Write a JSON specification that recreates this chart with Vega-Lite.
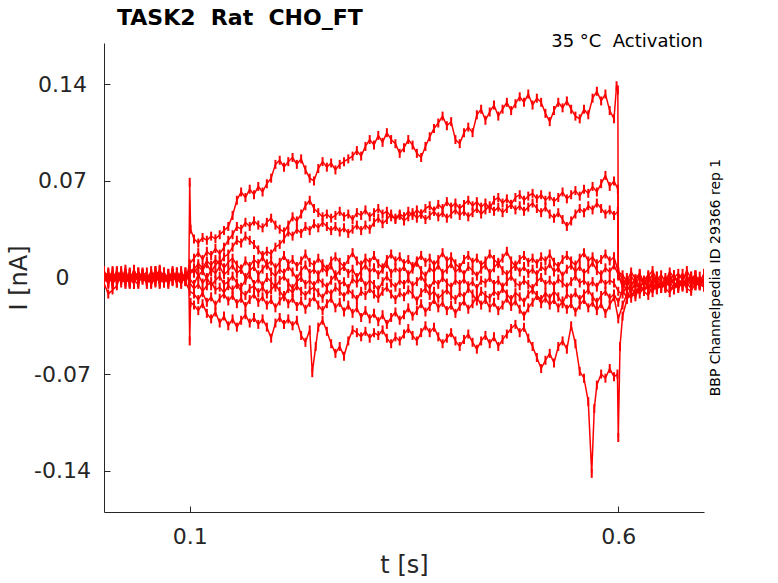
{
"$schema":"https://vega.github.io/schema/vega-lite/v6.json",
"width":600,"height":469,
"autosize":{"type":"none"},
"padding":{"left":104,"top":43,"right":74,"bottom":71},
"background":"white",
"config":{"view":{"stroke":null},"font":"DejaVu Sans"},
"title":{"text":"TASK2 \u00a0Rat \u00a0CHO_FT","anchor":"start","frame":"group","fontSize":22,"fontWeight":"bold","font":"DejaVu Sans","color":"black","dx":13,"dy":31,"offset":17,"baseline":"alphabetic"},
"datasets":{"tr":[
{"s":"A","t":0,"i":0.003},{"s":"A","t":0.005,"i":-0.004},{"s":"A","t":0.01,"i":0.002},{"s":"A","t":0.015,"i":-0.001},{"s":"A","t":0.02,"i":0.005},{"s":"A","t":0.025,"i":-0.003},{"s":"A","t":0.03,"i":0.001},{"s":"A","t":0.035,"i":-0.005},{"s":"A","t":0.04,"i":0.004},{"s":"A","t":0.045,"i":-0.002},{"s":"A","t":0.05,"i":0},{"s":"A","t":0.055,"i":0.003},{"s":"A","t":0.06,"i":-0.004},{"s":"A","t":0.065,"i":0.006},{"s":"A","t":0.07,"i":-0.002},{"s":"A","t":0.075,"i":0.001},{"s":"A","t":0.08,"i":-0.003},{"s":"A","t":0.085,"i":0.004},{"s":"A","t":0.09,"i":-0.001},{"s":"A","t":0.095,"i":0.002},
{"s":"A","t":0.099,"i":0.002},{"s":"A","t":0.1,"i":0.069},{"s":"A","t":0.101,"i":0.035},
{"s":"A","t":0.105,"i":0.028},{"s":"A","t":0.11,"i":0.025},{"s":"A","t":0.115,"i":0.029},{"s":"A","t":0.12,"i":0.027},{"s":"A","t":0.125,"i":0.03},{"s":"A","t":0.13,"i":0.028},{"s":"A","t":0.135,"i":0.031},{"s":"A","t":0.14,"i":0.034},{"s":"A","t":0.145,"i":0.037},{"s":"A","t":0.15,"i":0.045},{"s":"A","t":0.155,"i":0.056},{"s":"A","t":0.16,"i":0.062},{"s":"A","t":0.165,"i":0.058},{"s":"A","t":0.17,"i":0.064},{"s":"A","t":0.175,"i":0.06},{"s":"A","t":0.18,"i":0.066},{"s":"A","t":0.185,"i":0.062},{"s":"A","t":0.19,"i":0.068},{"s":"A","t":0.195,"i":0.072},{"s":"A","t":0.2,"i":0.082},{"s":"A","t":0.205,"i":0.085},{"s":"A","t":0.21,"i":0.08},{"s":"A","t":0.215,"i":0.084},{"s":"A","t":0.22,"i":0.087},{"s":"A","t":0.225,"i":0.082},{"s":"A","t":0.23,"i":0.086},{"s":"A","t":0.235,"i":0.078},{"s":"A","t":0.24,"i":0.072},{"s":"A","t":0.245,"i":0.07},{"s":"A","t":0.25,"i":0.079},{"s":"A","t":0.255,"i":0.084},{"s":"A","t":0.26,"i":0.08},{"s":"A","t":0.265,"i":0.083},{"s":"A","t":0.27,"i":0.078},{"s":"A","t":0.275,"i":0.082},{"s":"A","t":0.28,"i":0.084},{"s":"A","t":0.285,"i":0.086},{"s":"A","t":0.29,"i":0.088},{"s":"A","t":0.295,"i":0.092},{"s":"A","t":0.3,"i":0.088},{"s":"A","t":0.305,"i":0.095},{"s":"A","t":0.31,"i":0.1},{"s":"A","t":0.315,"i":0.096},{"s":"A","t":0.32,"i":0.103},{"s":"A","t":0.325,"i":0.098},{"s":"A","t":0.33,"i":0.105},{"s":"A","t":0.335,"i":0.1},{"s":"A","t":0.34,"i":0.097},{"s":"A","t":0.345,"i":0.09},{"s":"A","t":0.35,"i":0.094},{"s":"A","t":0.355,"i":0.1},{"s":"A","t":0.36,"i":0.096},{"s":"A","t":0.365,"i":0.09},{"s":"A","t":0.37,"i":0.087},{"s":"A","t":0.375,"i":0.095},{"s":"A","t":0.38,"i":0.102},{"s":"A","t":0.385,"i":0.108},{"s":"A","t":0.39,"i":0.112},{"s":"A","t":0.395,"i":0.117},{"s":"A","t":0.4,"i":0.11},{"s":"A","t":0.405,"i":0.113},{"s":"A","t":0.41,"i":0.1},{"s":"A","t":0.415,"i":0.097},{"s":"A","t":0.42,"i":0.105},{"s":"A","t":0.425,"i":0.109},{"s":"A","t":0.43,"i":0.105},{"s":"A","t":0.435,"i":0.118},{"s":"A","t":0.44,"i":0.122},{"s":"A","t":0.445,"i":0.114},{"s":"A","t":0.45,"i":0.12},{"s":"A","t":0.455,"i":0.125},{"s":"A","t":0.46,"i":0.117},{"s":"A","t":0.465,"i":0.122},{"s":"A","t":0.47,"i":0.127},{"s":"A","t":0.475,"i":0.121},{"s":"A","t":0.48,"i":0.126},{"s":"A","t":0.485,"i":0.131},{"s":"A","t":0.49,"i":0.127},{"s":"A","t":0.495,"i":0.133},{"s":"A","t":0.5,"i":0.125},{"s":"A","t":0.505,"i":0.13},{"s":"A","t":0.51,"i":0.127},{"s":"A","t":0.515,"i":0.119},{"s":"A","t":0.52,"i":0.113},{"s":"A","t":0.525,"i":0.121},{"s":"A","t":0.53,"i":0.127},{"s":"A","t":0.535,"i":0.123},{"s":"A","t":0.54,"i":0.128},{"s":"A","t":0.545,"i":0.122},{"s":"A","t":0.55,"i":0.117},{"s":"A","t":0.555,"i":0.115},{"s":"A","t":0.56,"i":0.122},{"s":"A","t":0.565,"i":0.118},{"s":"A","t":0.57,"i":0.13},{"s":"A","t":0.575,"i":0.135},{"s":"A","t":0.58,"i":0.128},{"s":"A","t":0.585,"i":0.133},{"s":"A","t":0.59,"i":0.121},{"s":"A","t":0.595,"i":0.115},{"s":"A","t":0.598,"i":0.139},{"s":"A","t":0.5995,"i":0.136},{"s":"A","t":0.6,"i":0.004},
{"s":"A","t":0.605,"i":-0.001},{"s":"A","t":0.61,"i":-0.006},{"s":"A","t":0.615,"i":0.001},{"s":"A","t":0.62,"i":-0.004},{"s":"A","t":0.625,"i":-0.008},{"s":"A","t":0.63,"i":-0.002},{"s":"A","t":0.635,"i":0.002},{"s":"A","t":0.64,"i":-0.005},{"s":"A","t":0.645,"i":-0.001},{"s":"A","t":0.65,"i":-0.006},{"s":"A","t":0.655,"i":0},{"s":"A","t":0.66,"i":-0.004},{"s":"A","t":0.665,"i":-0.007},{"s":"A","t":0.67,"i":-0.001},{"s":"A","t":0.675,"i":0.003},{"s":"A","t":0.68,"i":-0.004},{"s":"A","t":0.685,"i":-0.002},{"s":"A","t":0.69,"i":-0.006},{"s":"A","t":0.695,"i":0.001},{"s":"A","t":0.7,"i":-0.003},

{"s":"B","t":0,"i":-0.002},{"s":"B","t":0.005,"i":0.004},{"s":"B","t":0.01,"i":-0.005},{"s":"B","t":0.015,"i":0.001},{"s":"B","t":0.02,"i":0.003},{"s":"B","t":0.025,"i":-0.001},{"s":"B","t":0.03,"i":-0.004},{"s":"B","t":0.035,"i":0.005},{"s":"B","t":0.04,"i":-0.002},{"s":"B","t":0.045,"i":0.002},{"s":"B","t":0.05,"i":-0.003},{"s":"B","t":0.055,"i":0},{"s":"B","t":0.06,"i":0.004},{"s":"B","t":0.065,"i":-0.005},{"s":"B","t":0.07,"i":0.003},{"s":"B","t":0.075,"i":-0.001},{"s":"B","t":0.08,"i":0.002},{"s":"B","t":0.085,"i":-0.004},{"s":"B","t":0.09,"i":0.005},{"s":"B","t":0.095,"i":-0.003},
{"s":"B","t":0.1,"i":0.01},
{"s":"B","t":0.105,"i":0.014},{"s":"B","t":0.11,"i":0.018},{"s":"B","t":0.115,"i":0.013},{"s":"B","t":0.12,"i":0.019},{"s":"B","t":0.125,"i":0.016},{"s":"B","t":0.13,"i":0.021},{"s":"B","t":0.135,"i":0.017},{"s":"B","t":0.14,"i":0.022},{"s":"B","t":0.145,"i":0.027},{"s":"B","t":0.15,"i":0.031},{"s":"B","t":0.155,"i":0.037},{"s":"B","t":0.16,"i":0.035},{"s":"B","t":0.165,"i":0.04},{"s":"B","t":0.17,"i":0.037},{"s":"B","t":0.175,"i":0.041},{"s":"B","t":0.18,"i":0.038},{"s":"B","t":0.185,"i":0.036},{"s":"B","t":0.19,"i":0.04},{"s":"B","t":0.195,"i":0.043},{"s":"B","t":0.2,"i":0.038},{"s":"B","t":0.205,"i":0.035},{"s":"B","t":0.21,"i":0.033},{"s":"B","t":0.215,"i":0.038},{"s":"B","t":0.22,"i":0.044},{"s":"B","t":0.225,"i":0.041},{"s":"B","t":0.23,"i":0.046},{"s":"B","t":0.235,"i":0.052},{"s":"B","t":0.24,"i":0.056},{"s":"B","t":0.245,"i":0.05},{"s":"B","t":0.25,"i":0.047},{"s":"B","t":0.255,"i":0.044},{"s":"B","t":0.26,"i":0.046},{"s":"B","t":0.265,"i":0.043},{"s":"B","t":0.27,"i":0.045},{"s":"B","t":0.275,"i":0.048},{"s":"B","t":0.28,"i":0.044},{"s":"B","t":0.285,"i":0.046},{"s":"B","t":0.29,"i":0.042},{"s":"B","t":0.295,"i":0.047},{"s":"B","t":0.3,"i":0.045},{"s":"B","t":0.305,"i":0.049},{"s":"B","t":0.31,"i":0.044},{"s":"B","t":0.315,"i":0.047},{"s":"B","t":0.32,"i":0.05},{"s":"B","t":0.325,"i":0.046},{"s":"B","t":0.33,"i":0.048},{"s":"B","t":0.335,"i":0.044},{"s":"B","t":0.34,"i":0.043},{"s":"B","t":0.345,"i":0.046},{"s":"B","t":0.35,"i":0.044},{"s":"B","t":0.355,"i":0.048},{"s":"B","t":0.36,"i":0.045},{"s":"B","t":0.365,"i":0.049},{"s":"B","t":0.37,"i":0.046},{"s":"B","t":0.375,"i":0.05},{"s":"B","t":0.38,"i":0.052},{"s":"B","t":0.385,"i":0.048},{"s":"B","t":0.39,"i":0.053},{"s":"B","t":0.395,"i":0.05},{"s":"B","t":0.4,"i":0.055},{"s":"B","t":0.405,"i":0.051},{"s":"B","t":0.41,"i":0.054},{"s":"B","t":0.415,"i":0.05},{"s":"B","t":0.42,"i":0.053},{"s":"B","t":0.425,"i":0.056},{"s":"B","t":0.43,"i":0.052},{"s":"B","t":0.435,"i":0.055},{"s":"B","t":0.44,"i":0.051},{"s":"B","t":0.445,"i":0.054},{"s":"B","t":0.45,"i":0.05},{"s":"B","t":0.455,"i":0.056},{"s":"B","t":0.46,"i":0.058},{"s":"B","t":0.465,"i":0.054},{"s":"B","t":0.47,"i":0.057},{"s":"B","t":0.475,"i":0.053},{"s":"B","t":0.48,"i":0.058},{"s":"B","t":0.485,"i":0.06},{"s":"B","t":0.49,"i":0.056},{"s":"B","t":0.495,"i":0.059},{"s":"B","t":0.5,"i":0.061},{"s":"B","t":0.505,"i":0.057},{"s":"B","t":0.51,"i":0.06},{"s":"B","t":0.515,"i":0.056},{"s":"B","t":0.52,"i":0.059},{"s":"B","t":0.525,"i":0.055},{"s":"B","t":0.53,"i":0.058},{"s":"B","t":0.535,"i":0.062},{"s":"B","t":0.54,"i":0.057},{"s":"B","t":0.545,"i":0.06},{"s":"B","t":0.55,"i":0.063},{"s":"B","t":0.555,"i":0.059},{"s":"B","t":0.56,"i":0.064},{"s":"B","t":0.565,"i":0.061},{"s":"B","t":0.57,"i":0.066},{"s":"B","t":0.575,"i":0.062},{"s":"B","t":0.58,"i":0.068},{"s":"B","t":0.585,"i":0.074},{"s":"B","t":0.59,"i":0.066},{"s":"B","t":0.595,"i":0.07},{"s":"B","t":0.5995,"i":0.064},{"s":"B","t":0.6,"i":0.002},
{"s":"B","t":0.605,"i":-0.007},{"s":"B","t":0.61,"i":-0.002},{"s":"B","t":0.615,"i":-0.009},{"s":"B","t":0.62,"i":-0.004},{"s":"B","t":0.625,"i":0},{"s":"B","t":0.63,"i":-0.006},{"s":"B","t":0.635,"i":-0.002},{"s":"B","t":0.64,"i":0.002},{"s":"B","t":0.645,"i":-0.005},{"s":"B","t":0.65,"i":-0.008},{"s":"B","t":0.655,"i":-0.003},{"s":"B","t":0.66,"i":0.001},{"s":"B","t":0.665,"i":-0.004},{"s":"B","t":0.67,"i":-0.006},{"s":"B","t":0.675,"i":-0.001},{"s":"B","t":0.68,"i":0.002},{"s":"B","t":0.685,"i":-0.005},{"s":"B","t":0.69,"i":-0.002},{"s":"B","t":0.695,"i":-0.006},{"s":"B","t":0.7,"i":0},

{"s":"C","t":0,"i":0.005},{"s":"C","t":0.005,"i":-0.001},{"s":"C","t":0.01,"i":-0.003},{"s":"C","t":0.015,"i":0.004},{"s":"C","t":0.02,"i":-0.002},{"s":"C","t":0.025,"i":0.006},{"s":"C","t":0.03,"i":-0.004},{"s":"C","t":0.035,"i":0.001},{"s":"C","t":0.04,"i":-0.001},{"s":"C","t":0.045,"i":0.003},{"s":"C","t":0.05,"i":-0.005},{"s":"C","t":0.055,"i":0.002},{"s":"C","t":0.06,"i":0},{"s":"C","t":0.065,"i":-0.003},{"s":"C","t":0.07,"i":0.004},{"s":"C","t":0.075,"i":-0.002},{"s":"C","t":0.08,"i":0.005},{"s":"C","t":0.085,"i":-0.001},{"s":"C","t":0.09,"i":-0.004},{"s":"C","t":0.095,"i":0.001},
{"s":"C","t":0.1,"i":0.005},
{"s":"C","t":0.105,"i":0.006},{"s":"C","t":0.11,"i":0.01},{"s":"C","t":0.115,"i":0.007},{"s":"C","t":0.12,"i":0.012},{"s":"C","t":0.125,"i":0.009},{"s":"C","t":0.13,"i":0.013},{"s":"C","t":0.135,"i":0.01},{"s":"C","t":0.14,"i":0.015},{"s":"C","t":0.145,"i":0.017},{"s":"C","t":0.15,"i":0.022},{"s":"C","t":0.155,"i":0.027},{"s":"C","t":0.16,"i":0.025},{"s":"C","t":0.165,"i":0.03},{"s":"C","t":0.17,"i":0.027},{"s":"C","t":0.175,"i":0.024},{"s":"C","t":0.18,"i":0.02},{"s":"C","t":0.185,"i":0.016},{"s":"C","t":0.19,"i":0.019},{"s":"C","t":0.195,"i":0.017},{"s":"C","t":0.2,"i":0.022},{"s":"C","t":0.205,"i":0.024},{"s":"C","t":0.21,"i":0.028},{"s":"C","t":0.215,"i":0.033},{"s":"C","t":0.22,"i":0.03},{"s":"C","t":0.225,"i":0.035},{"s":"C","t":0.23,"i":0.032},{"s":"C","t":0.235,"i":0.037},{"s":"C","t":0.24,"i":0.034},{"s":"C","t":0.245,"i":0.039},{"s":"C","t":0.25,"i":0.036},{"s":"C","t":0.255,"i":0.04},{"s":"C","t":0.26,"i":0.037},{"s":"C","t":0.265,"i":0.034},{"s":"C","t":0.27,"i":0.037},{"s":"C","t":0.275,"i":0.033},{"s":"C","t":0.28,"i":0.036},{"s":"C","t":0.285,"i":0.032},{"s":"C","t":0.29,"i":0.035},{"s":"C","t":0.295,"i":0.038},{"s":"C","t":0.3,"i":0.034},{"s":"C","t":0.305,"i":0.038},{"s":"C","t":0.31,"i":0.035},{"s":"C","t":0.315,"i":0.04},{"s":"C","t":0.32,"i":0.043},{"s":"C","t":0.325,"i":0.039},{"s":"C","t":0.33,"i":0.042},{"s":"C","t":0.335,"i":0.046},{"s":"C","t":0.34,"i":0.042},{"s":"C","t":0.345,"i":0.045},{"s":"C","t":0.35,"i":0.041},{"s":"C","t":0.355,"i":0.044},{"s":"C","t":0.36,"i":0.047},{"s":"C","t":0.365,"i":0.043},{"s":"C","t":0.37,"i":0.046},{"s":"C","t":0.375,"i":0.042},{"s":"C","t":0.38,"i":0.045},{"s":"C","t":0.385,"i":0.048},{"s":"C","t":0.39,"i":0.044},{"s":"C","t":0.395,"i":0.047},{"s":"C","t":0.4,"i":0.043},{"s":"C","t":0.405,"i":0.046},{"s":"C","t":0.41,"i":0.049},{"s":"C","t":0.415,"i":0.045},{"s":"C","t":0.42,"i":0.048},{"s":"C","t":0.425,"i":0.044},{"s":"C","t":0.43,"i":0.047},{"s":"C","t":0.435,"i":0.05},{"s":"C","t":0.44,"i":0.046},{"s":"C","t":0.445,"i":0.049},{"s":"C","t":0.45,"i":0.052},{"s":"C","t":0.455,"i":0.048},{"s":"C","t":0.46,"i":0.051},{"s":"C","t":0.465,"i":0.047},{"s":"C","t":0.47,"i":0.05},{"s":"C","t":0.475,"i":0.053},{"s":"C","t":0.48,"i":0.049},{"s":"C","t":0.485,"i":0.052},{"s":"C","t":0.49,"i":0.048},{"s":"C","t":0.495,"i":0.051},{"s":"C","t":0.5,"i":0.054},{"s":"C","t":0.505,"i":0.05},{"s":"C","t":0.51,"i":0.047},{"s":"C","t":0.515,"i":0.051},{"s":"C","t":0.52,"i":0.046},{"s":"C","t":0.525,"i":0.043},{"s":"C","t":0.53,"i":0.047},{"s":"C","t":0.535,"i":0.042},{"s":"C","t":0.54,"i":0.037},{"s":"C","t":0.545,"i":0.041},{"s":"C","t":0.55,"i":0.046},{"s":"C","t":0.555,"i":0.05},{"s":"C","t":0.56,"i":0.047},{"s":"C","t":0.565,"i":0.052},{"s":"C","t":0.57,"i":0.049},{"s":"C","t":0.575,"i":0.054},{"s":"C","t":0.58,"i":0.05},{"s":"C","t":0.585,"i":0.046},{"s":"C","t":0.59,"i":0.049},{"s":"C","t":0.595,"i":0.045},{"s":"C","t":0.5995,"i":0.048},{"s":"C","t":0.6,"i":0.001},
{"s":"C","t":0.605,"i":-0.004},{"s":"C","t":0.61,"i":-0.01},{"s":"C","t":0.615,"i":-0.005},{"s":"C","t":0.62,"i":-0.001},{"s":"C","t":0.625,"i":-0.007},{"s":"C","t":0.63,"i":-0.003},{"s":"C","t":0.635,"i":-0.008},{"s":"C","t":0.64,"i":-0.002},{"s":"C","t":0.645,"i":0.001},{"s":"C","t":0.65,"i":-0.004},{"s":"C","t":0.655,"i":-0.007},{"s":"C","t":0.66,"i":-0.002},{"s":"C","t":0.665,"i":0.002},{"s":"C","t":0.67,"i":-0.005},{"s":"C","t":0.675,"i":-0.001},{"s":"C","t":0.68,"i":-0.006},{"s":"C","t":0.685,"i":-0.003},{"s":"C","t":0.69,"i":0.001},{"s":"C","t":0.695,"i":-0.004},{"s":"C","t":0.7,"i":-0.002},

{"s":"D","t":0,"i":-0.004},{"s":"D","t":0.005,"i":-0.012},{"s":"D","t":0.01,"i":-0.009},{"s":"D","t":0.015,"i":-0.006},{"s":"D","t":0.02,"i":0.003},{"s":"D","t":0.025,"i":-0.005},{"s":"D","t":0.03,"i":0.003},{"s":"D","t":0.035,"i":-0.002},{"s":"D","t":0.04,"i":0.004},{"s":"D","t":0.045,"i":0},{"s":"D","t":0.05,"i":-0.001},{"s":"D","t":0.055,"i":-0.004},{"s":"D","t":0.06,"i":0.002},{"s":"D","t":0.065,"i":0.005},{"s":"D","t":0.07,"i":-0.003},{"s":"D","t":0.075,"i":0.003},{"s":"D","t":0.08,"i":-0.002},{"s":"D","t":0.085,"i":0.001},{"s":"D","t":0.09,"i":-0.005},{"s":"D","t":0.095,"i":0.004},
{"s":"D","t":0.099,"i":-0.002},{"s":"D","t":0.1,"i":-0.046},{"s":"D","t":0.101,"i":-0.018},
{"s":"D","t":0.105,"i":-0.02},{"s":"D","t":0.11,"i":-0.024},{"s":"D","t":0.115,"i":-0.019},{"s":"D","t":0.12,"i":-0.026},{"s":"D","t":0.125,"i":-0.03},{"s":"D","t":0.13,"i":-0.025},{"s":"D","t":0.135,"i":-0.033},{"s":"D","t":0.14,"i":-0.028},{"s":"D","t":0.145,"i":-0.035},{"s":"D","t":0.15,"i":-0.03},{"s":"D","t":0.155,"i":-0.036},{"s":"D","t":0.16,"i":-0.031},{"s":"D","t":0.165,"i":-0.027},{"s":"D","t":0.17,"i":-0.033},{"s":"D","t":0.175,"i":-0.029},{"s":"D","t":0.18,"i":-0.034},{"s":"D","t":0.185,"i":-0.03},{"s":"D","t":0.19,"i":-0.036},{"s":"D","t":0.195,"i":-0.044},{"s":"D","t":0.2,"i":-0.033},{"s":"D","t":0.205,"i":-0.029},{"s":"D","t":0.21,"i":-0.034},{"s":"D","t":0.215,"i":-0.03},{"s":"D","t":0.22,"i":-0.035},{"s":"D","t":0.225,"i":-0.031},{"s":"D","t":0.23,"i":-0.042},{"s":"D","t":0.235,"i":-0.047},{"s":"D","t":0.24,"i":-0.038},{"s":"D","t":0.243,"i":-0.069},{"s":"D","t":0.247,"i":-0.05},{"s":"D","t":0.25,"i":-0.036},{"s":"D","t":0.255,"i":-0.031},{"s":"D","t":0.26,"i":-0.039},{"s":"D","t":0.265,"i":-0.048},{"s":"D","t":0.27,"i":-0.055},{"s":"D","t":0.275,"i":-0.05},{"s":"D","t":0.28,"i":-0.057},{"s":"D","t":0.285,"i":-0.046},{"s":"D","t":0.29,"i":-0.038},{"s":"D","t":0.295,"i":-0.04},{"s":"D","t":0.3,"i":-0.043},{"s":"D","t":0.305,"i":-0.039},{"s":"D","t":0.31,"i":-0.044},{"s":"D","t":0.315,"i":-0.04},{"s":"D","t":0.32,"i":-0.042},{"s":"D","t":0.325,"i":-0.038},{"s":"D","t":0.33,"i":-0.044},{"s":"D","t":0.335,"i":-0.048},{"s":"D","t":0.34,"i":-0.043},{"s":"D","t":0.345,"i":-0.046},{"s":"D","t":0.35,"i":-0.041},{"s":"D","t":0.355,"i":-0.037},{"s":"D","t":0.36,"i":-0.042},{"s":"D","t":0.365,"i":-0.046},{"s":"D","t":0.37,"i":-0.04},{"s":"D","t":0.375,"i":-0.035},{"s":"D","t":0.38,"i":-0.04},{"s":"D","t":0.385,"i":-0.036},{"s":"D","t":0.39,"i":-0.043},{"s":"D","t":0.395,"i":-0.048},{"s":"D","t":0.4,"i":-0.044},{"s":"D","t":0.405,"i":-0.04},{"s":"D","t":0.41,"i":-0.046},{"s":"D","t":0.415,"i":-0.05},{"s":"D","t":0.42,"i":-0.045},{"s":"D","t":0.425,"i":-0.041},{"s":"D","t":0.43,"i":-0.047},{"s":"D","t":0.435,"i":-0.052},{"s":"D","t":0.44,"i":-0.046},{"s":"D","t":0.445,"i":-0.042},{"s":"D","t":0.45,"i":-0.048},{"s":"D","t":0.455,"i":-0.043},{"s":"D","t":0.46,"i":-0.05},{"s":"D","t":0.465,"i":-0.045},{"s":"D","t":0.47,"i":-0.041},{"s":"D","t":0.475,"i":-0.037},{"s":"D","t":0.48,"i":-0.034},{"s":"D","t":0.485,"i":-0.04},{"s":"D","t":0.49,"i":-0.036},{"s":"D","t":0.495,"i":-0.044},{"s":"D","t":0.5,"i":-0.05},{"s":"D","t":0.505,"i":-0.058},{"s":"D","t":0.51,"i":-0.066},{"s":"D","t":0.515,"i":-0.06},{"s":"D","t":0.52,"i":-0.055},{"s":"D","t":0.525,"i":-0.062},{"s":"D","t":0.53,"i":-0.05},{"s":"D","t":0.535,"i":-0.046},{"s":"D","t":0.54,"i":-0.052},{"s":"D","t":0.545,"i":-0.035},{"s":"D","t":0.55,"i":-0.048},{"s":"D","t":0.555,"i":-0.068},{"s":"D","t":0.56,"i":-0.073},{"s":"D","t":0.565,"i":-0.09},{"s":"D","t":0.569,"i":-0.142},{"s":"D","t":0.572,"i":-0.095},{"s":"D","t":0.575,"i":-0.078},{"s":"D","t":0.58,"i":-0.07},{"s":"D","t":0.585,"i":-0.073},{"s":"D","t":0.59,"i":-0.066},{"s":"D","t":0.595,"i":-0.072},{"s":"D","t":0.599,"i":-0.07},{"s":"D","t":0.6,"i":-0.116},{"s":"D","t":0.602,"i":-0.05},
{"s":"D","t":0.605,"i":-0.028},{"s":"D","t":0.61,"i":-0.016},{"s":"D","t":0.615,"i":-0.011},{"s":"D","t":0.62,"i":-0.014},{"s":"D","t":0.625,"i":-0.007},{"s":"D","t":0.63,"i":-0.01},{"s":"D","t":0.635,"i":-0.005},{"s":"D","t":0.64,"i":-0.008},{"s":"D","t":0.645,"i":-0.003},{"s":"D","t":0.65,"i":-0.007},{"s":"D","t":0.655,"i":-0.002},{"s":"D","t":0.66,"i":-0.006},{"s":"D","t":0.665,"i":0},{"s":"D","t":0.67,"i":-0.004},{"s":"D","t":0.675,"i":-0.007},{"s":"D","t":0.68,"i":-0.002},{"s":"D","t":0.685,"i":0.001},{"s":"D","t":0.69,"i":-0.005},{"s":"D","t":0.695,"i":-0.003},{"s":"D","t":0.7,"i":-0.006},

{"s":"E","t":0,"i":0.001},{"s":"E","t":0.005,"i":-0.005},{"s":"E","t":0.01,"i":0.004},{"s":"E","t":0.015,"i":-0.002},{"s":"E","t":0.02,"i":-0.001},{"s":"E","t":0.025,"i":0.003},{"s":"E","t":0.03,"i":-0.003},{"s":"E","t":0.035,"i":0.006},{"s":"E","t":0.04,"i":-0.004},{"s":"E","t":0.045,"i":0.002},{"s":"E","t":0.05,"i":0.001},{"s":"E","t":0.055,"i":-0.002},{"s":"E","t":0.06,"i":0.005},{"s":"E","t":0.065,"i":-0.001},{"s":"E","t":0.07,"i":-0.004},{"s":"E","t":0.075,"i":0.003},{"s":"E","t":0.08,"i":-0.002},{"s":"E","t":0.085,"i":0.004},{"s":"E","t":0.09,"i":0},{"s":"E","t":0.095,"i":-0.003},
{"s":"E","t":0.1,"i":-0.01},{"s":"E","t":0.105,"i":-0.012},{"s":"E","t":0.11,"i":-0.016},{"s":"E","t":0.115,"i":-0.011},{"s":"E","t":0.12,"i":-0.018},{"s":"E","t":0.125,"i":-0.014},{"s":"E","t":0.13,"i":-0.02},{"s":"E","t":0.135,"i":-0.015},{"s":"E","t":0.14,"i":-0.012},{"s":"E","t":0.145,"i":-0.017},{"s":"E","t":0.15,"i":-0.013},{"s":"E","t":0.155,"i":-0.019},{"s":"E","t":0.16,"i":-0.015},{"s":"E","t":0.165,"i":-0.021},{"s":"E","t":0.17,"i":-0.016},{"s":"E","t":0.175,"i":-0.012},{"s":"E","t":0.18,"i":-0.018},{"s":"E","t":0.185,"i":-0.014},{"s":"E","t":0.19,"i":-0.02},{"s":"E","t":0.195,"i":-0.016},{"s":"E","t":0.2,"i":-0.022},{"s":"E","t":0.205,"i":-0.017},{"s":"E","t":0.21,"i":-0.013},{"s":"E","t":0.215,"i":-0.019},{"s":"E","t":0.22,"i":-0.015},{"s":"E","t":0.225,"i":-0.021},{"s":"E","t":0.23,"i":-0.017},{"s":"E","t":0.235,"i":-0.023},{"s":"E","t":0.24,"i":-0.018},{"s":"E","t":0.245,"i":-0.014},{"s":"E","t":0.25,"i":-0.02},{"s":"E","t":0.255,"i":-0.024},{"s":"E","t":0.26,"i":-0.019},{"s":"E","t":0.265,"i":-0.015},{"s":"E","t":0.27,"i":-0.022},{"s":"E","t":0.275,"i":-0.018},{"s":"E","t":0.28,"i":-0.025},{"s":"E","t":0.285,"i":-0.02},{"s":"E","t":0.29,"i":-0.026},{"s":"E","t":0.295,"i":-0.022},{"s":"E","t":0.3,"i":-0.029},{"s":"E","t":0.305,"i":-0.024},{"s":"E","t":0.31,"i":-0.03},{"s":"E","t":0.315,"i":-0.026},{"s":"E","t":0.32,"i":-0.032},{"s":"E","t":0.325,"i":-0.027},{"s":"E","t":0.33,"i":-0.034},{"s":"E","t":0.335,"i":-0.029},{"s":"E","t":0.34,"i":-0.025},{"s":"E","t":0.345,"i":-0.031},{"s":"E","t":0.35,"i":-0.027},{"s":"E","t":0.355,"i":-0.022},{"s":"E","t":0.36,"i":-0.028},{"s":"E","t":0.365,"i":-0.024},{"s":"E","t":0.37,"i":-0.019},{"s":"E","t":0.375,"i":-0.025},{"s":"E","t":0.38,"i":-0.021},{"s":"E","t":0.385,"i":-0.016},{"s":"E","t":0.39,"i":-0.022},{"s":"E","t":0.395,"i":-0.018},{"s":"E","t":0.4,"i":-0.024},{"s":"E","t":0.405,"i":-0.02},{"s":"E","t":0.41,"i":-0.026},{"s":"E","t":0.415,"i":-0.021},{"s":"E","t":0.42,"i":-0.017},{"s":"E","t":0.425,"i":-0.023},{"s":"E","t":0.43,"i":-0.019},{"s":"E","t":0.435,"i":-0.014},{"s":"E","t":0.44,"i":-0.02},{"s":"E","t":0.445,"i":-0.016},{"s":"E","t":0.45,"i":-0.022},{"s":"E","t":0.455,"i":-0.018},{"s":"E","t":0.46,"i":-0.024},{"s":"E","t":0.465,"i":-0.02},{"s":"E","t":0.47,"i":-0.015},{"s":"E","t":0.475,"i":-0.021},{"s":"E","t":0.48,"i":-0.017},{"s":"E","t":0.485,"i":-0.023},{"s":"E","t":0.49,"i":-0.028},{"s":"E","t":0.495,"i":-0.022},{"s":"E","t":0.5,"i":-0.018},{"s":"E","t":0.505,"i":-0.013},{"s":"E","t":0.51,"i":-0.019},{"s":"E","t":0.515,"i":-0.015},{"s":"E","t":0.52,"i":-0.02},{"s":"E","t":0.525,"i":-0.016},{"s":"E","t":0.53,"i":-0.022},{"s":"E","t":0.535,"i":-0.017},{"s":"E","t":0.54,"i":-0.023},{"s":"E","t":0.545,"i":-0.019},{"s":"E","t":0.55,"i":-0.025},{"s":"E","t":0.555,"i":-0.02},{"s":"E","t":0.56,"i":-0.016},{"s":"E","t":0.565,"i":-0.022},{"s":"E","t":0.57,"i":-0.018},{"s":"E","t":0.575,"i":-0.024},{"s":"E","t":0.58,"i":-0.019},{"s":"E","t":0.585,"i":-0.026},{"s":"E","t":0.59,"i":-0.02},{"s":"E","t":0.595,"i":-0.014},{"s":"E","t":0.6,"i":-0.03},
{"s":"E","t":0.605,"i":-0.02},{"s":"E","t":0.61,"i":-0.012},{"s":"E","t":0.615,"i":-0.015},{"s":"E","t":0.62,"i":-0.008},{"s":"E","t":0.625,"i":-0.012},{"s":"E","t":0.63,"i":-0.006},{"s":"E","t":0.635,"i":-0.009},{"s":"E","t":0.64,"i":-0.004},{"s":"E","t":0.645,"i":-0.008},{"s":"E","t":0.65,"i":-0.003},{"s":"E","t":0.655,"i":-0.006},{"s":"E","t":0.66,"i":-0.001},{"s":"E","t":0.665,"i":-0.005},{"s":"E","t":0.67,"i":-0.008},{"s":"E","t":0.675,"i":-0.002},{"s":"E","t":0.68,"i":-0.004},{"s":"E","t":0.685,"i":0.001},{"s":"E","t":0.69,"i":-0.006},{"s":"E","t":0.695,"i":-0.003},{"s":"E","t":0.7,"i":-0.001},

{"s":"P","t":0,"i":0.002},{"s":"P","t":0.005,"i":0.003},{"s":"P","t":0.01,"i":-0.004},{"s":"P","t":0.015,"i":0.001},{"s":"P","t":0.02,"i":-0.002},{"s":"P","t":0.025,"i":0.004},{"s":"P","t":0.03,"i":-0.005},{"s":"P","t":0.035,"i":0.002},{"s":"P","t":0.04,"i":0.003},{"s":"P","t":0.045,"i":-0.001},{"s":"P","t":0.05,"i":-0.003},{"s":"P","t":0.055,"i":0.005},{"s":"P","t":0.06,"i":-0.002},{"s":"P","t":0.065,"i":0},{"s":"P","t":0.07,"i":0.004},{"s":"P","t":0.075,"i":-0.004},{"s":"P","t":0.08,"i":0.001},{"s":"P","t":0.085,"i":-0.001},{"s":"P","t":0.09,"i":0.003},{"s":"P","t":0.095,"i":-0.002},
{"s":"P","t":0.1,"i":0.006},{"s":"P","t":0.105,"i":0.003},{"s":"P","t":0.11,"i":0.008},{"s":"P","t":0.115,"i":0.005},{"s":"P","t":0.12,"i":0.01},{"s":"P","t":0.125,"i":0.004},{"s":"P","t":0.13,"i":0.009},{"s":"P","t":0.135,"i":0.012},{"s":"P","t":0.14,"i":0.007},{"s":"P","t":0.145,"i":0.011},{"s":"P","t":0.15,"i":0.014},{"s":"P","t":0.155,"i":0.009},{"s":"P","t":0.16,"i":0.006},{"s":"P","t":0.165,"i":0.012},{"s":"P","t":0.17,"i":0.008},{"s":"P","t":0.175,"i":0.013},{"s":"P","t":0.18,"i":0.01},{"s":"P","t":0.185,"i":0.015},{"s":"P","t":0.19,"i":0.009},{"s":"P","t":0.195,"i":0.012},{"s":"P","t":0.2,"i":0.007},{"s":"P","t":0.205,"i":0.011},{"s":"P","t":0.21,"i":0.016},{"s":"P","t":0.215,"i":0.01},{"s":"P","t":0.22,"i":0.013},{"s":"P","t":0.225,"i":0.008},{"s":"P","t":0.23,"i":0.012},{"s":"P","t":0.235,"i":0.017},{"s":"P","t":0.24,"i":0.011},{"s":"P","t":0.245,"i":0.009},{"s":"P","t":0.25,"i":0.014},{"s":"P","t":0.255,"i":0.01},{"s":"P","t":0.26,"i":0.006},{"s":"P","t":0.265,"i":0.012},{"s":"P","t":0.27,"i":0.015},{"s":"P","t":0.275,"i":0.011},{"s":"P","t":0.28,"i":0.008},{"s":"P","t":0.285,"i":0.013},{"s":"P","t":0.29,"i":0.018},{"s":"P","t":0.295,"i":0.012},{"s":"P","t":0.3,"i":0.009},{"s":"P","t":0.305,"i":0.014},{"s":"P","t":0.31,"i":0.011},{"s":"P","t":0.315,"i":0.016},{"s":"P","t":0.32,"i":0.01},{"s":"P","t":0.325,"i":0.007},{"s":"P","t":0.33,"i":0.013},{"s":"P","t":0.335,"i":0.017},{"s":"P","t":0.34,"i":0.012},{"s":"P","t":0.345,"i":0.015},{"s":"P","t":0.35,"i":0.01},{"s":"P","t":0.355,"i":0.013},{"s":"P","t":0.36,"i":0.008},{"s":"P","t":0.365,"i":0.012},{"s":"P","t":0.37,"i":0.016},{"s":"P","t":0.375,"i":0.011},{"s":"P","t":0.38,"i":0.014},{"s":"P","t":0.385,"i":0.009},{"s":"P","t":0.39,"i":0.013},{"s":"P","t":0.395,"i":0.018},{"s":"P","t":0.4,"i":0.012},{"s":"P","t":0.405,"i":0.015},{"s":"P","t":0.41,"i":0.01},{"s":"P","t":0.415,"i":0.007},{"s":"P","t":0.42,"i":0.013},{"s":"P","t":0.425,"i":0.016},{"s":"P","t":0.43,"i":0.011},{"s":"P","t":0.435,"i":0.014},{"s":"P","t":0.44,"i":0.009},{"s":"P","t":0.445,"i":0.012},{"s":"P","t":0.45,"i":0.017},{"s":"P","t":0.455,"i":0.013},{"s":"P","t":0.46,"i":0.01},{"s":"P","t":0.465,"i":0.014},{"s":"P","t":0.47,"i":0.019},{"s":"P","t":0.475,"i":0.012},{"s":"P","t":0.48,"i":0.008},{"s":"P","t":0.485,"i":0.013},{"s":"P","t":0.49,"i":0.016},{"s":"P","t":0.495,"i":0.011},{"s":"P","t":0.5,"i":0.014},{"s":"P","t":0.505,"i":0.01},{"s":"P","t":0.51,"i":0.015},{"s":"P","t":0.515,"i":0.012},{"s":"P","t":0.52,"i":0.017},{"s":"P","t":0.525,"i":0.011},{"s":"P","t":0.53,"i":0.008},{"s":"P","t":0.535,"i":0.013},{"s":"P","t":0.54,"i":0.016},{"s":"P","t":0.545,"i":0.012},{"s":"P","t":0.55,"i":0.009},{"s":"P","t":0.555,"i":0.014},{"s":"P","t":0.56,"i":0.018},{"s":"P","t":0.565,"i":0.012},{"s":"P","t":0.57,"i":0.015},{"s":"P","t":0.575,"i":0.01},{"s":"P","t":0.58,"i":0.013},{"s":"P","t":0.585,"i":0.017},{"s":"P","t":0.59,"i":0.012},{"s":"P","t":0.595,"i":0.015},{"s":"P","t":0.6,"i":0.004},
{"s":"P","t":0.605,"i":0.002},{"s":"P","t":0.61,"i":-0.003},{"s":"P","t":0.615,"i":0.004},{"s":"P","t":0.62,"i":-0.001},{"s":"P","t":0.625,"i":0.003},{"s":"P","t":0.63,"i":-0.004},{"s":"P","t":0.635,"i":0.001},{"s":"P","t":0.64,"i":0.005},{"s":"P","t":0.645,"i":-0.002},{"s":"P","t":0.65,"i":0.002},{"s":"P","t":0.655,"i":-0.003},{"s":"P","t":0.66,"i":0.004},{"s":"P","t":0.665,"i":0},{"s":"P","t":0.67,"i":0.003},{"s":"P","t":0.675,"i":-0.002},{"s":"P","t":0.68,"i":0.005},{"s":"P","t":0.685,"i":-0.001},{"s":"P","t":0.69,"i":0.002},{"s":"P","t":0.695,"i":-0.004},{"s":"P","t":0.7,"i":0.003},

{"s":"Z","t":0,"i":-0.003},{"s":"Z","t":0.005,"i":-0.001},{"s":"Z","t":0.01,"i":0.005},{"s":"Z","t":0.015,"i":-0.004},{"s":"Z","t":0.02,"i":0.002},{"s":"Z","t":0.025,"i":0},{"s":"Z","t":0.03,"i":0.003},{"s":"Z","t":0.035,"i":-0.002},{"s":"Z","t":0.04,"i":-0.005},{"s":"Z","t":0.045,"i":0.004},{"s":"Z","t":0.05,"i":-0.001},{"s":"Z","t":0.055,"i":0.002},{"s":"Z","t":0.06,"i":-0.003},{"s":"Z","t":0.065,"i":0.005},{"s":"Z","t":0.07,"i":-0.004},{"s":"Z","t":0.075,"i":0.001},{"s":"Z","t":0.08,"i":0.003},{"s":"Z","t":0.085,"i":-0.002},{"s":"Z","t":0.09,"i":0},{"s":"Z","t":0.095,"i":-0.001},
{"s":"Z","t":0.1,"i":0.002},{"s":"Z","t":0.105,"i":0.007},{"s":"Z","t":0.11,"i":0.001},{"s":"Z","t":0.115,"i":0.005},{"s":"Z","t":0.12,"i":-0.001},{"s":"Z","t":0.125,"i":0.006},{"s":"Z","t":0.13,"i":0.003},{"s":"Z","t":0.135,"i":0.008},{"s":"Z","t":0.14,"i":0.002},{"s":"Z","t":0.145,"i":0.005},{"s":"Z","t":0.15,"i":0.009},{"s":"Z","t":0.155,"i":0.003},{"s":"Z","t":0.16,"i":0.006},{"s":"Z","t":0.165,"i":0},{"s":"Z","t":0.17,"i":0.005},{"s":"Z","t":0.175,"i":0.008},{"s":"Z","t":0.18,"i":0.002},{"s":"Z","t":0.185,"i":0.006},{"s":"Z","t":0.19,"i":0.01},{"s":"Z","t":0.195,"i":0.004},{"s":"Z","t":0.2,"i":0.001},{"s":"Z","t":0.205,"i":0.006},{"s":"Z","t":0.21,"i":0.003},{"s":"Z","t":0.215,"i":0.008},{"s":"Z","t":0.22,"i":0.004},{"s":"Z","t":0.225,"i":-0.001},{"s":"Z","t":0.23,"i":0.005},{"s":"Z","t":0.235,"i":0.009},{"s":"Z","t":0.24,"i":0.003},{"s":"Z","t":0.245,"i":0.006},{"s":"Z","t":0.25,"i":0.002},{"s":"Z","t":0.255,"i":0.007},{"s":"Z","t":0.26,"i":0.004},{"s":"Z","t":0.265,"i":0.009},{"s":"Z","t":0.27,"i":0.001},{"s":"Z","t":0.275,"i":0.005},{"s":"Z","t":0.28,"i":0.008},{"s":"Z","t":0.285,"i":0.003},{"s":"Z","t":0.29,"i":0.006},{"s":"Z","t":0.295,"i":0},{"s":"Z","t":0.3,"i":0.005},{"s":"Z","t":0.305,"i":0.009},{"s":"Z","t":0.31,"i":0.004},{"s":"Z","t":0.315,"i":0.007},{"s":"Z","t":0.32,"i":0.002},{"s":"Z","t":0.325,"i":0.006},{"s":"Z","t":0.33,"i":0.01},{"s":"Z","t":0.335,"i":0.003},{"s":"Z","t":0.34,"i":0.007},{"s":"Z","t":0.345,"i":0.004},{"s":"Z","t":0.35,"i":0.008},{"s":"Z","t":0.355,"i":0.002},{"s":"Z","t":0.36,"i":0.006},{"s":"Z","t":0.365,"i":0.011},{"s":"Z","t":0.37,"i":0.005},{"s":"Z","t":0.375,"i":0.001},{"s":"Z","t":0.38,"i":0.007},{"s":"Z","t":0.385,"i":0.004},{"s":"Z","t":0.39,"i":0.009},{"s":"Z","t":0.395,"i":0.003},{"s":"Z","t":0.4,"i":0.006},{"s":"Z","t":0.405,"i":0.01},{"s":"Z","t":0.41,"i":0.004},{"s":"Z","t":0.415,"i":0.007},{"s":"Z","t":0.42,"i":0.002},{"s":"Z","t":0.425,"i":0.008},{"s":"Z","t":0.43,"i":0.005},{"s":"Z","t":0.435,"i":0.001},{"s":"Z","t":0.44,"i":0.006},{"s":"Z","t":0.445,"i":0.009},{"s":"Z","t":0.45,"i":0.003},{"s":"Z","t":0.455,"i":0.007},{"s":"Z","t":0.46,"i":0.011},{"s":"Z","t":0.465,"i":0.005},{"s":"Z","t":0.47,"i":0.002},{"s":"Z","t":0.475,"i":0.006},{"s":"Z","t":0.48,"i":0.009},{"s":"Z","t":0.485,"i":0.004},{"s":"Z","t":0.49,"i":0.008},{"s":"Z","t":0.495,"i":0.003},{"s":"Z","t":0.5,"i":0.006},{"s":"Z","t":0.505,"i":0.002},{"s":"Z","t":0.51,"i":0.008},{"s":"Z","t":0.515,"i":0.005},{"s":"Z","t":0.52,"i":0.01},{"s":"Z","t":0.525,"i":0.004},{"s":"Z","t":0.53,"i":0.007},{"s":"Z","t":0.535,"i":0.001},{"s":"Z","t":0.54,"i":0.006},{"s":"Z","t":0.545,"i":0.009},{"s":"Z","t":0.55,"i":0.004},{"s":"Z","t":0.555,"i":0.008},{"s":"Z","t":0.56,"i":0.003},{"s":"Z","t":0.565,"i":0.006},{"s":"Z","t":0.57,"i":0.011},{"s":"Z","t":0.575,"i":0.005},{"s":"Z","t":0.58,"i":0.002},{"s":"Z","t":0.585,"i":0.007},{"s":"Z","t":0.59,"i":0.004},{"s":"Z","t":0.595,"i":0.009},{"s":"Z","t":0.6,"i":0.002},
{"s":"Z","t":0.605,"i":-0.005},{"s":"Z","t":0.61,"i":0},{"s":"Z","t":0.615,"i":-0.006},{"s":"Z","t":0.62,"i":-0.002},{"s":"Z","t":0.625,"i":0.002},{"s":"Z","t":0.63,"i":-0.004},{"s":"Z","t":0.635,"i":-0.001},{"s":"Z","t":0.64,"i":-0.006},{"s":"Z","t":0.645,"i":0.001},{"s":"Z","t":0.65,"i":-0.003},{"s":"Z","t":0.655,"i":-0.007},{"s":"Z","t":0.66,"i":-0.001},{"s":"Z","t":0.665,"i":0.002},{"s":"Z","t":0.67,"i":-0.004},{"s":"Z","t":0.675,"i":-0.006},{"s":"Z","t":0.68,"i":0},{"s":"Z","t":0.685,"i":-0.003},{"s":"Z","t":0.69,"i":0.002},{"s":"Z","t":0.695,"i":-0.005},{"s":"Z","t":0.7,"i":-0.001},

{"s":"Y","t":0,"i":0.004},{"s":"Y","t":0.005,"i":-0.003},{"s":"Y","t":0.01,"i":-0.001},{"s":"Y","t":0.015,"i":0.003},{"s":"Y","t":0.02,"i":-0.004},{"s":"Y","t":0.025,"i":0.002},{"s":"Y","t":0.03,"i":-0.002},{"s":"Y","t":0.035,"i":0.005},{"s":"Y","t":0.04,"i":-0.003},{"s":"Y","t":0.045,"i":0.001},{"s":"Y","t":0.05,"i":0.004},{"s":"Y","t":0.055,"i":-0.005},{"s":"Y","t":0.06,"i":0},{"s":"Y","t":0.065,"i":0.002},{"s":"Y","t":0.07,"i":-0.001},{"s":"Y","t":0.075,"i":-0.003},{"s":"Y","t":0.08,"i":0.004},{"s":"Y","t":0.085,"i":-0.004},{"s":"Y","t":0.09,"i":0.002},{"s":"Y","t":0.095,"i":0.001},
{"s":"Y","t":0.1,"i":-0.001},{"s":"Y","t":0.105,"i":-0.005},{"s":"Y","t":0.11,"i":0.002},{"s":"Y","t":0.115,"i":-0.004},{"s":"Y","t":0.12,"i":0},{"s":"Y","t":0.125,"i":-0.006},{"s":"Y","t":0.13,"i":-0.002},{"s":"Y","t":0.135,"i":0.001},{"s":"Y","t":0.14,"i":-0.005},{"s":"Y","t":0.145,"i":-0.003},{"s":"Y","t":0.15,"i":0.001},{"s":"Y","t":0.155,"i":-0.004},{"s":"Y","t":0.16,"i":-0.007},{"s":"Y","t":0.165,"i":-0.002},{"s":"Y","t":0.17,"i":0.002},{"s":"Y","t":0.175,"i":-0.005},{"s":"Y","t":0.18,"i":-0.001},{"s":"Y","t":0.185,"i":-0.006},{"s":"Y","t":0.19,"i":0},{"s":"Y","t":0.195,"i":-0.003},{"s":"Y","t":0.2,"i":-0.007},{"s":"Y","t":0.205,"i":-0.002},{"s":"Y","t":0.21,"i":0.001},{"s":"Y","t":0.215,"i":-0.004},{"s":"Y","t":0.22,"i":-0.008},{"s":"Y","t":0.225,"i":-0.003},{"s":"Y","t":0.23,"i":0},{"s":"Y","t":0.235,"i":-0.005},{"s":"Y","t":0.24,"i":-0.002},{"s":"Y","t":0.245,"i":-0.006},{"s":"Y","t":0.25,"i":-0.001},{"s":"Y","t":0.255,"i":-0.004},{"s":"Y","t":0.26,"i":-0.007},{"s":"Y","t":0.265,"i":-0.002},{"s":"Y","t":0.27,"i":0.002},{"s":"Y","t":0.275,"i":-0.005},{"s":"Y","t":0.28,"i":-0.003},{"s":"Y","t":0.285,"i":-0.008},{"s":"Y","t":0.29,"i":-0.001},{"s":"Y","t":0.295,"i":-0.004},{"s":"Y","t":0.3,"i":0},{"s":"Y","t":0.305,"i":-0.006},{"s":"Y","t":0.31,"i":-0.002},{"s":"Y","t":0.315,"i":-0.005},{"s":"Y","t":0.32,"i":-0.009},{"s":"Y","t":0.325,"i":-0.003},{"s":"Y","t":0.33,"i":0.001},{"s":"Y","t":0.335,"i":-0.004},{"s":"Y","t":0.34,"i":-0.007},{"s":"Y","t":0.345,"i":-0.002},{"s":"Y","t":0.35,"i":-0.005},{"s":"Y","t":0.355,"i":-0.001},{"s":"Y","t":0.36,"i":-0.006},{"s":"Y","t":0.365,"i":-0.003},{"s":"Y","t":0.37,"i":0.001},{"s":"Y","t":0.375,"i":-0.004},{"s":"Y","t":0.38,"i":-0.008},{"s":"Y","t":0.385,"i":-0.002},{"s":"Y","t":0.39,"i":-0.005},{"s":"Y","t":0.395,"i":0},{"s":"Y","t":0.4,"i":-0.004},{"s":"Y","t":0.405,"i":-0.007},{"s":"Y","t":0.41,"i":-0.002},{"s":"Y","t":0.415,"i":-0.005},{"s":"Y","t":0.42,"i":-0.001},{"s":"Y","t":0.425,"i":-0.006},{"s":"Y","t":0.43,"i":-0.003},{"s":"Y","t":0.435,"i":-0.008},{"s":"Y","t":0.44,"i":-0.002},{"s":"Y","t":0.445,"i":-0.004},{"s":"Y","t":0.45,"i":0},{"s":"Y","t":0.455,"i":-0.005},{"s":"Y","t":0.46,"i":-0.002},{"s":"Y","t":0.465,"i":-0.007},{"s":"Y","t":0.47,"i":-0.003},{"s":"Y","t":0.475,"i":0.001},{"s":"Y","t":0.48,"i":-0.004},{"s":"Y","t":0.485,"i":-0.006},{"s":"Y","t":0.49,"i":-0.002},{"s":"Y","t":0.495,"i":-0.005},{"s":"Y","t":0.5,"i":-0.008},{"s":"Y","t":0.505,"i":-0.003},{"s":"Y","t":0.51,"i":0},{"s":"Y","t":0.515,"i":-0.005},{"s":"Y","t":0.52,"i":-0.002},{"s":"Y","t":0.525,"i":-0.006},{"s":"Y","t":0.53,"i":-0.001},{"s":"Y","t":0.535,"i":-0.004},{"s":"Y","t":0.54,"i":-0.007},{"s":"Y","t":0.545,"i":-0.003},{"s":"Y","t":0.55,"i":0.001},{"s":"Y","t":0.555,"i":-0.004},{"s":"Y","t":0.56,"i":-0.002},{"s":"Y","t":0.565,"i":-0.006},{"s":"Y","t":0.57,"i":-0.003},{"s":"Y","t":0.575,"i":-0.007},{"s":"Y","t":0.58,"i":-0.001},{"s":"Y","t":0.585,"i":-0.005},{"s":"Y","t":0.59,"i":-0.002},{"s":"Y","t":0.595,"i":-0.004},{"s":"Y","t":0.6,"i":-0.01},
{"s":"Y","t":0.605,"i":-0.012},{"s":"Y","t":0.61,"i":-0.006},{"s":"Y","t":0.615,"i":-0.01},{"s":"Y","t":0.62,"i":-0.004},{"s":"Y","t":0.625,"i":-0.008},{"s":"Y","t":0.63,"i":-0.002},{"s":"Y","t":0.635,"i":-0.007},{"s":"Y","t":0.64,"i":-0.011},{"s":"Y","t":0.645,"i":-0.004},{"s":"Y","t":0.65,"i":-0.008},{"s":"Y","t":0.655,"i":-0.003},{"s":"Y","t":0.66,"i":-0.006},{"s":"Y","t":0.665,"i":-0.009},{"s":"Y","t":0.67,"i":-0.002},{"s":"Y","t":0.675,"i":-0.006},{"s":"Y","t":0.68,"i":-0.004},{"s":"Y","t":0.685,"i":-0.008},{"s":"Y","t":0.69,"i":-0.001},{"s":"Y","t":0.695,"i":-0.005},{"s":"Y","t":0.7,"i":-0.007},

{"s":"N","t":0,"i":0},{"s":"N","t":0.005,"i":0.002},{"s":"N","t":0.01,"i":-0.003},{"s":"N","t":0.015,"i":0.005},{"s":"N","t":0.02,"i":-0.001},{"s":"N","t":0.025,"i":-0.004},{"s":"N","t":0.03,"i":0.004},{"s":"N","t":0.035,"i":-0.003},{"s":"N","t":0.04,"i":0.001},{"s":"N","t":0.045,"i":0.003},{"s":"N","t":0.05,"i":-0.002},{"s":"N","t":0.055,"i":-0.001},{"s":"N","t":0.06,"i":0.005},{"s":"N","t":0.065,"i":-0.004},{"s":"N","t":0.07,"i":0.002},{"s":"N","t":0.075,"i":-0.005},{"s":"N","t":0.08,"i":0.003},{"s":"N","t":0.085,"i":0},{"s":"N","t":0.09,"i":-0.002},{"s":"N","t":0.095,"i":0.004},
{"s":"N","t":0.1,"i":-0.004},{"s":"N","t":0.105,"i":-0.008},{"s":"N","t":0.11,"i":-0.005},{"s":"N","t":0.115,"i":-0.01},{"s":"N","t":0.12,"i":-0.006},{"s":"N","t":0.125,"i":-0.003},{"s":"N","t":0.13,"i":-0.009},{"s":"N","t":0.135,"i":-0.007},{"s":"N","t":0.14,"i":-0.011},{"s":"N","t":0.145,"i":-0.006},{"s":"N","t":0.15,"i":-0.009},{"s":"N","t":0.155,"i":-0.005},{"s":"N","t":0.16,"i":-0.01},{"s":"N","t":0.165,"i":-0.013},{"s":"N","t":0.17,"i":-0.008},{"s":"N","t":0.175,"i":-0.006},{"s":"N","t":0.18,"i":-0.011},{"s":"N","t":0.185,"i":-0.007},{"s":"N","t":0.19,"i":-0.012},{"s":"N","t":0.195,"i":-0.009},{"s":"N","t":0.2,"i":-0.005},{"s":"N","t":0.205,"i":-0.01},{"s":"N","t":0.21,"i":-0.014},{"s":"N","t":0.215,"i":-0.008},{"s":"N","t":0.22,"i":-0.011},{"s":"N","t":0.225,"i":-0.006},{"s":"N","t":0.23,"i":-0.01},{"s":"N","t":0.235,"i":-0.013},{"s":"N","t":0.24,"i":-0.009},{"s":"N","t":0.245,"i":-0.007},{"s":"N","t":0.25,"i":-0.011},{"s":"N","t":0.255,"i":-0.015},{"s":"N","t":0.26,"i":-0.009},{"s":"N","t":0.265,"i":-0.012},{"s":"N","t":0.27,"i":-0.007},{"s":"N","t":0.275,"i":-0.01},{"s":"N","t":0.28,"i":-0.014},{"s":"N","t":0.285,"i":-0.009},{"s":"N","t":0.29,"i":-0.012},{"s":"N","t":0.295,"i":-0.016},{"s":"N","t":0.3,"i":-0.01},{"s":"N","t":0.305,"i":-0.013},{"s":"N","t":0.31,"i":-0.008},{"s":"N","t":0.315,"i":-0.012},{"s":"N","t":0.32,"i":-0.015},{"s":"N","t":0.325,"i":-0.01},{"s":"N","t":0.33,"i":-0.007},{"s":"N","t":0.335,"i":-0.012},{"s":"N","t":0.34,"i":-0.016},{"s":"N","t":0.345,"i":-0.011},{"s":"N","t":0.35,"i":-0.014},{"s":"N","t":0.355,"i":-0.009},{"s":"N","t":0.36,"i":-0.012},{"s":"N","t":0.365,"i":-0.017},{"s":"N","t":0.37,"i":-0.011},{"s":"N","t":0.375,"i":-0.008},{"s":"N","t":0.38,"i":-0.013},{"s":"N","t":0.385,"i":-0.01},{"s":"N","t":0.39,"i":-0.015},{"s":"N","t":0.395,"i":-0.012},{"s":"N","t":0.4,"i":-0.009},{"s":"N","t":0.405,"i":-0.013},{"s":"N","t":0.41,"i":-0.016},{"s":"N","t":0.415,"i":-0.011},{"s":"N","t":0.42,"i":-0.014},{"s":"N","t":0.425,"i":-0.008},{"s":"N","t":0.43,"i":-0.012},{"s":"N","t":0.435,"i":-0.017},{"s":"N","t":0.44,"i":-0.01},{"s":"N","t":0.445,"i":-0.013},{"s":"N","t":0.45,"i":-0.015},{"s":"N","t":0.455,"i":-0.01},{"s":"N","t":0.46,"i":-0.013},{"s":"N","t":0.465,"i":-0.008},{"s":"N","t":0.47,"i":-0.012},{"s":"N","t":0.475,"i":-0.016},{"s":"N","t":0.48,"i":-0.011},{"s":"N","t":0.485,"i":-0.014},{"s":"N","t":0.49,"i":-0.018},{"s":"N","t":0.495,"i":-0.012},{"s":"N","t":0.5,"i":-0.009},{"s":"N","t":0.505,"i":-0.013},{"s":"N","t":0.51,"i":-0.016},{"s":"N","t":0.515,"i":-0.011},{"s":"N","t":0.52,"i":-0.015},{"s":"N","t":0.525,"i":-0.01},{"s":"N","t":0.53,"i":-0.014},{"s":"N","t":0.535,"i":-0.019},{"s":"N","t":0.54,"i":-0.012},{"s":"N","t":0.545,"i":-0.015},{"s":"N","t":0.55,"i":-0.011},{"s":"N","t":0.555,"i":-0.016},{"s":"N","t":0.56,"i":-0.012},{"s":"N","t":0.565,"i":-0.009},{"s":"N","t":0.57,"i":-0.014},{"s":"N","t":0.575,"i":-0.018},{"s":"N","t":0.58,"i":-0.013},{"s":"N","t":0.585,"i":-0.01},{"s":"N","t":0.59,"i":-0.015},{"s":"N","t":0.595,"i":-0.012},{"s":"N","t":0.6,"i":-0.018},
{"s":"N","t":0.605,"i":-0.009},{"s":"N","t":0.61,"i":-0.015},{"s":"N","t":0.615,"i":-0.007},{"s":"N","t":0.62,"i":-0.012},{"s":"N","t":0.625,"i":-0.005},{"s":"N","t":0.63,"i":-0.01},{"s":"N","t":0.635,"i":-0.013},{"s":"N","t":0.64,"i":-0.006},{"s":"N","t":0.645,"i":-0.009},{"s":"N","t":0.65,"i":-0.004},{"s":"N","t":0.655,"i":-0.008},{"s":"N","t":0.66,"i":-0.011},{"s":"N","t":0.665,"i":-0.005},{"s":"N","t":0.67,"i":-0.007},{"s":"N","t":0.675,"i":-0.003},{"s":"N","t":0.68,"i":-0.008},{"s":"N","t":0.685,"i":-0.01},{"s":"N","t":0.69,"i":-0.004},{"s":"N","t":0.695,"i":-0.006},{"s":"N","t":0.7,"i":-0.002}
]},
"layer":[
{"data":{"name":"tr"},
 "mark":{"type":"line","color":"#ff0000","strokeWidth":1.5,"clip":true},
 "encoding":{
  "x":{"field":"t","type":"quantitative","scale":{"domain":[0,0.7],"nice":false,"zero":false},
   "axis":{"title":"t [s]","values":[0.1,0.6],"format":".1f","grid":false,"tickSize":-6,"tickColor":"#262626","domainColor":"#262626","labelColor":"#262626","titleColor":"#262626","labelFont":"DejaVu Sans","titleFont":"DejaVu Sans","labelFontSize":22,"titleFontSize":24,"titleFontWeight":"normal","labelPadding":20,"titlePadding":6,"labelFlush":false}},
  "y":{"field":"i","type":"quantitative","scale":{"domain":[-0.17,0.17],"nice":false,"zero":false},
   "axis":{"title":"I [nA]","values":[-0.14,-0.07,0,0.07,0.14],"labelExpr":"datum.value == 0 ? '0' : replace(format(datum.value, '.2f'), '\u2212', '-')","grid":false,"tickSize":-6,"tickColor":"#262626","domainColor":"#262626","labelColor":"#262626","titleColor":"#262626","labelFont":"DejaVu Sans","titleFont":"DejaVu Sans","labelFontSize":22,"titleFontSize":24,"titleFontWeight":"normal","labelAlign":"center","labelBaseline":"middle","labelPadding":48,"titlePadding":2,"labelFlush":false}},
  "detail":{"field":"s","type":"nominal"}
 }},
{"data":{"name":"tr"},
 "mark":{"type":"tick","orient":"vertical","color":"#ff0000","size":9,"thickness":2,"opacity":1,"clip":true},
 "encoding":{"x":{"field":"t","type":"quantitative"},"y":{"field":"i","type":"quantitative"}}},
{"data":{"values":[{}]},
 "mark":{"type":"text","text":"35 \u00b0C \u00a0Activation","align":"right","baseline":"alphabetic","dy":4,"dx":-1,"fontSize":18,"font":"DejaVu Sans","color":"black"},
 "encoding":{"x":{"datum":0.7,"type":"quantitative"},"y":{"datum":0.17,"type":"quantitative"}}},
{"data":{"values":[{}]},
 "mark":{"type":"text","text":"BBP Channelpedia ID 29366 rep 1","angle":270,"align":"center","baseline":"middle","dy":12,"fontSize":14,"font":"DejaVu Sans","color":"black"},
 "encoding":{"x":{"datum":0.7,"type":"quantitative"},"y":{"datum":0,"type":"quantitative"}}}
]
}
